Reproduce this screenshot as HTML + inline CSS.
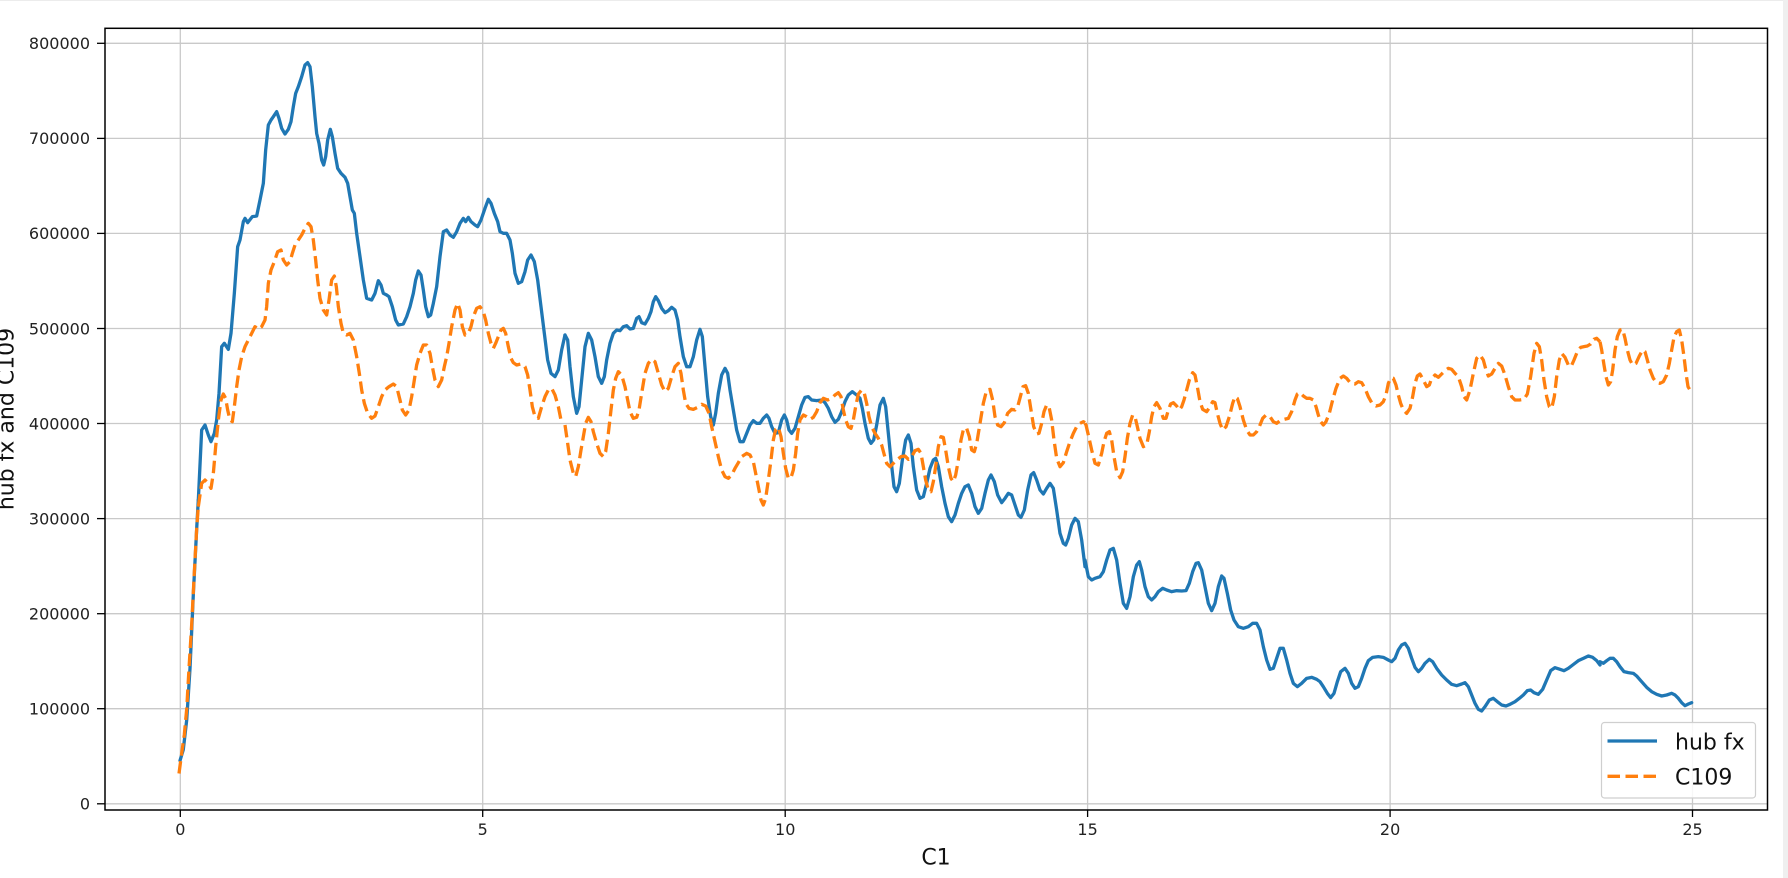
<!DOCTYPE html>
<html>
<head>
<meta charset="utf-8">
<style>
html,body{margin:0;padding:0;background:#fff;width:1788px;height:878px;overflow:hidden}
svg{display:block}
</style>
</head>
<body>
<svg width="1788" height="878" viewBox="0 0 1788 878" xmlns="http://www.w3.org/2000/svg" font-family="'DejaVu Sans','Liberation Sans',sans-serif">
<rect x="0" y="0" width="1788" height="878" fill="#fff"/>
<rect x="0" y="0" width="1788" height="1" fill="#ececec"/>
<rect x="1783" y="0" width="5" height="878" fill="#efefef"/>

<!-- grid -->
<g stroke="#c9c9c9" stroke-width="1.3" fill="none">
<line x1="180.3" y1="28.3" x2="180.3" y2="810"/>
<line x1="482.7" y1="28.3" x2="482.7" y2="810"/>
<line x1="785.2" y1="28.3" x2="785.2" y2="810"/>
<line x1="1087.6" y1="28.3" x2="1087.6" y2="810"/>
<line x1="1390.1" y1="28.3" x2="1390.1" y2="810"/>
<line x1="1692.5" y1="28.3" x2="1692.5" y2="810"/>
<line x1="105" y1="43.3" x2="1767.5" y2="43.3"/>
<line x1="105" y1="138.4" x2="1767.5" y2="138.4"/>
<line x1="105" y1="233.4" x2="1767.5" y2="233.4"/>
<line x1="105" y1="328.5" x2="1767.5" y2="328.5"/>
<line x1="105" y1="423.5" x2="1767.5" y2="423.5"/>
<line x1="105" y1="518.6" x2="1767.5" y2="518.6"/>
<line x1="105" y1="613.7" x2="1767.5" y2="613.7"/>
<line x1="105" y1="708.7" x2="1767.5" y2="708.7"/>
<line x1="105" y1="803.8" x2="1767.5" y2="803.8"/>
</g>

<!-- blue series: hub fx -->
<g fill="none" stroke="#1f77b4" stroke-linejoin="round" stroke-linecap="round">
<polyline stroke-width="3.3" points="180,760.6 183.3,749.6 186.7,720.1 190,668.5 193.3,594.8 196.7,528.4 198.3,500"/>
<g transform="translate(175,40) scale(0.333333)">
<polyline stroke-width="9.9" points="70,1380 80,1170 90,1155 100,1185 108,1205 118,1180 125,1140 132,1060 140,920 148,910 160,928 168,880 178,760 188,620 195,600 205,545 210,535 218,548 232,530 245,528 255,480 265,430 272,330 280,255 288,240 295,230 305,215 312,235 320,265 330,282 340,268 348,245 355,200 362,160 370,140 380,110 390,75 398,68 405,80 412,140 420,230 425,280 432,310 440,360 446,375 452,350 458,300 466,268 472,290 480,340 488,385 498,400 510,412 518,430 525,470 532,510 538,520 545,580 555,650 565,720 575,775 590,780 600,760 610,722 618,735 625,760 635,765 642,770 652,800 662,840 670,855 685,852 695,830 705,800 715,760 722,720 730,693 738,705 745,750 752,800 760,830 767,825 775,790 785,740 795,650 805,575 815,570 825,585 835,592 845,575 855,550 865,535 872,545 880,532 888,545 900,555 908,560 918,540 930,505 940,478 948,490 958,520 968,545 975,575 985,580 995,580 1005,600 1012,640 1020,700 1030,730 1040,725 1050,695 1058,660 1068,645 1078,665 1088,720 1098,800 1108,880 1118,960 1128,1000 1140,1010 1150,990 1160,930 1170,885"/>
</g>
<g transform="translate(565,180) scale(0.333333)">
<polyline stroke-width="9.9" points="0,465 8,480 15,560 25,650 35,700 42,680 50,600 60,500 70,460 80,480 90,530 100,590 110,610 118,590 125,540 135,490 145,460 155,450 165,452 175,440 185,437 195,447 205,445 215,415 222,410 230,428 240,432 250,415 258,395 265,365 272,350 280,362 290,385 300,398 310,392 320,382 330,390 338,420 345,470 355,530 365,560 375,560 385,530 395,480 405,448 412,470 420,560 428,650 437,710 445,735 452,700 460,640 470,585 480,565 488,580 495,630 505,690 515,750 525,785 535,785 545,760 555,735 565,722 575,730 585,730 595,715 605,705 612,715 620,740 630,760 640,758 650,720 658,705 665,720 672,750 680,760 690,745 700,710 710,675 720,652 730,650 740,660 755,662 770,660 780,668 790,685 800,710 810,727 820,718 830,695 840,665 850,645 862,635 875,645 885,655 892,685 900,730 910,775 918,790 926,780 935,735 945,675 955,655 962,680 970,760 978,840 987,920 995,935 1003,910 1012,840 1022,780 1030,765 1038,790 1045,860 1055,930 1065,955 1075,950 1085,910 1095,865 1105,840 1112,835 1120,860 1130,920 1140,970 1150,1010 1160,1025 1170,1005 1180,970 1190,940 1200,920 1210,915 1220,940 1230,980 1240,1000 1250,985 1260,940 1270,900 1278,885 1288,905 1298,945 1310,968 1320,955 1330,940 1340,945 1350,975 1360,1005 1368,1012 1378,990 1388,930 1398,885 1406,878 1415,900 1425,930 1435,942 1445,925 1455,910 1465,925 1475,990 1485,1060 1495,1090 1502,1095 1510,1075 1520,1035 1530,1015 1540,1025 1550,1080 1560,1160"/>
</g>
<g transform="translate(1080,250) scale(0.333333)">
<polyline stroke-width="9.9" points="15,930 25,980 35,990 45,985 60,980 70,965 80,930 90,900 100,895 110,930 120,1000 130,1060 140,1075 150,1040 160,980 170,945 178,935 185,960 195,1010 205,1040 215,1050 225,1040 235,1025 248,1015 260,1020 275,1025 290,1022 305,1023 318,1022 328,1000 338,965 348,940 355,938 365,960 375,1010 385,1060 395,1082 405,1060 415,1010 425,978 432,985 442,1030 452,1080 462,1110 475,1130 490,1135 505,1130 518,1120 530,1120 540,1140 550,1190 560,1230 570,1258 580,1255 590,1225 600,1195 610,1195 620,1230 630,1270 640,1300 652,1310 665,1300 680,1285 695,1282 710,1288 720,1295 730,1310 742,1330 752,1343 762,1330 772,1295 782,1265 795,1255 805,1270 815,1300 825,1315 835,1310 845,1285 855,1255 865,1232 878,1222 895,1220 910,1222 925,1230 935,1235 945,1225 955,1200 965,1185 975,1180 985,1195 995,1225 1005,1252 1015,1265 1025,1255 1035,1240 1048,1228 1058,1235 1070,1255 1085,1275 1100,1290 1115,1303 1130,1307 1145,1302 1155,1298 1165,1310 1175,1335 1185,1360 1195,1378 1205,1383 1215,1370 1228,1350 1240,1345 1252,1355 1265,1365 1278,1368 1290,1363 1305,1355 1318,1345 1330,1335 1342,1322 1352,1320 1362,1328 1375,1333 1388,1318 1400,1290 1412,1262 1425,1253 1440,1258 1452,1262 1465,1255 1478,1245 1495,1232 1510,1225 1525,1218 1538,1222 1550,1232 1560,1245"/>
</g>
<g transform="translate(1500,250) scale(0.333333)">
<polyline stroke-width="9.9" points="300,1235 310,1240 320,1232 330,1225 340,1225 350,1235 360,1250 372,1265 385,1268 400,1270 410,1278 425,1295 440,1312 455,1325 470,1333 485,1338 500,1335 515,1330 525,1335 535,1345 545,1358 555,1367 565,1362 575,1358"/>
</g>
</g>

<!-- orange series: C109 -->
<g fill="none" stroke="#ff7f0e" stroke-linejoin="round" stroke-linecap="butt">
<polyline stroke-width="3.3" stroke-dasharray="12.5 5.5" points="179,773.5 181.7,753.2 184.3,734.8 186.7,709 189,668.5 191.7,624.2 194.3,572.7 196.7,528.4 198.3,506.7"/>
<g transform="translate(175,40) scale(0.333333)">
<polyline stroke-width="9.9" stroke-dasharray="37.5 16.5" points="70,1400 80,1330 90,1320 100,1330 108,1345 115,1300 122,1220 130,1140 138,1080 145,1062 152,1075 158,1110 165,1140 172,1145 178,1100 185,1040 192,990 200,950 210,920 220,900 230,880 240,860 250,868 260,860 270,840 275,800 280,730 288,690 298,665 308,635 318,630 325,660 335,675 345,665 352,640 360,615 370,600 380,585 390,565 400,550 408,560 415,600 422,660 428,720 435,775 445,810 455,825 462,780 470,720 478,708 484,740 490,800 498,850 505,880 515,885 525,880 535,900 545,950 553,1000 560,1050 568,1090 578,1120 590,1135 600,1128 610,1100 620,1070 630,1050 642,1040 655,1032 665,1040 675,1080 682,1110 692,1125 702,1110 710,1070 718,1020 725,975 735,940 745,915 755,915 765,940 772,980 780,1020 790,1040 800,1020 808,980 815,950 822,910 830,860 840,810 848,790 855,810 862,860 870,885 880,880 888,860 895,830 905,805 915,800 925,815 932,840 940,880 948,910 955,925 962,910 970,890 978,870 985,865 992,880 1000,920 1008,955 1015,968 1025,975 1038,972 1050,980 1058,1005 1065,1050 1072,1100 1080,1130 1090,1135 1100,1100 1110,1070 1120,1050 1130,1045 1140,1065 1150,1100 1160,1150"/>
</g>
<g transform="translate(565,180) scale(0.333333)">
<polyline stroke-width="9.9" stroke-dasharray="37.5 16.5" points="0,735 8,790 15,840 25,880 32,890 40,860 48,810 55,770 62,730 70,712 78,725 85,755 95,790 105,820 115,830 122,815 130,760 138,690 145,630 152,595 160,575 170,585 180,620 188,660 195,695 205,715 215,712 222,690 230,640 240,580 250,550 260,538 270,545 280,580 290,615 300,635 310,625 320,590 330,560 340,550 348,580 355,630 362,670 372,685 385,688 398,682 410,673 422,678 432,700 440,740 450,785 460,830 470,870 480,890 490,895 500,885 510,865 520,848 530,830 545,820 555,825 565,845 572,880 580,920 588,960 595,975 602,955 610,900 618,840 625,780 632,748 640,742 648,770 655,820 662,865 670,895 678,893 685,870 692,820 698,760 705,720 715,705 725,710 735,718 745,712 755,695 765,668 775,655 788,660 800,655 810,645 820,638 828,650 835,690 842,720 850,740 858,745 865,720 872,680 880,642 890,630 898,640 905,670 912,710 920,740 930,760 940,775 950,795 958,825 965,850 975,860 985,850 995,840 1008,830 1020,828 1030,838 1040,830 1050,812 1060,808 1068,820 1075,860 1082,900 1090,930 1098,935 1105,905 1112,860 1120,800 1128,770 1135,772 1142,810 1150,860 1158,895 1165,905 1172,885 1180,840 1188,780 1196,745 1205,745 1213,770 1220,810 1228,815 1236,785 1245,730 1255,670 1265,630 1275,628 1283,660 1290,710 1298,735 1308,740 1318,728 1328,700 1340,688 1350,690 1358,680 1366,650 1374,620 1382,617 1390,640 1398,690 1406,740 1415,762 1422,760 1430,730 1437,695 1445,675 1452,680 1460,720 1467,780 1475,835 1485,860 1495,848 1505,815 1515,785 1525,760 1535,740 1545,730 1555,725 1560,728"/>
</g>
<g transform="translate(1080,250) scale(0.333333)">
<polyline stroke-width="9.9" stroke-dasharray="37.5 16.5" points="15,520 18,525 25,555 35,600 45,640 55,645 65,610 72,575 80,550 88,545 95,570 102,620 110,665 120,683 128,665 135,620 142,565 150,520 158,495 165,500 172,530 180,565 190,590 200,585 208,545 215,500 222,470 230,458 240,475 250,505 258,505 265,480 272,462 280,458 290,468 298,480 305,470 312,450 320,420 328,390 338,368 345,375 352,410 360,455 368,478 380,485 390,470 398,455 405,458 412,490 420,520 428,540 438,530 448,500 458,460 465,440 472,445 480,470 490,510 500,540 510,555 520,555 530,545 538,530 548,505 558,495 570,500 580,515 590,520 600,512 612,508 625,505 635,485 645,450 652,432 660,428 670,438 680,445 690,445 700,450 708,470 715,495 722,515 730,525 738,515 748,490 758,450 768,415 780,385 790,378 800,385 812,400 825,402 835,395 845,398 855,415 865,440 875,458 888,468 900,465 910,455 918,435 925,400 932,385 940,385 948,405 955,435 962,460 970,480 980,490 990,475 998,440 1005,400 1012,378 1020,372 1030,390 1040,410 1048,405 1055,385 1065,375 1075,382 1085,372 1095,362 1105,355 1115,358 1125,370 1135,380 1145,410 1152,440 1160,450 1170,420 1180,370 1190,325 1200,315 1210,330 1218,360 1225,378 1235,372 1245,355 1255,340 1265,348 1275,375 1285,410 1295,440 1305,450 1318,450 1332,448 1342,432 1352,380 1362,310 1370,280 1378,290 1385,330 1392,390 1400,440 1408,470 1415,475 1423,440 1430,380 1438,330 1445,310 1455,322 1465,345 1473,350 1482,330 1492,305 1502,292 1512,290 1522,288 1532,282 1542,268 1550,265 1560,275"/>
</g>
<g transform="translate(1500,250) scale(0.333333)">
<polyline stroke-width="9.9" stroke-dasharray="37.5 16.5" points="300,275 305,300 312,345 318,380 325,405 332,395 338,360 345,300 352,260 360,240 368,238 375,265 382,300 390,330 398,345 408,340 418,318 428,300 435,305 442,330 450,360 460,385 470,398 480,400 490,395 500,375 508,340 515,300 522,262 530,245 538,240 545,270 552,320 558,370 564,410 570,420 575,412"/>
</g>
</g>

<!-- spines -->
<rect x="105" y="28.3" width="1662.5" height="781.7" fill="none" stroke="#000" stroke-width="1.5"/>

<!-- ticks -->
<g stroke="#000" stroke-width="1.3">
<line x1="97" y1="43.3" x2="105" y2="43.3"/>
<line x1="97" y1="138.4" x2="105" y2="138.4"/>
<line x1="97" y1="233.4" x2="105" y2="233.4"/>
<line x1="97" y1="328.5" x2="105" y2="328.5"/>
<line x1="97" y1="423.5" x2="105" y2="423.5"/>
<line x1="97" y1="518.6" x2="105" y2="518.6"/>
<line x1="97" y1="613.7" x2="105" y2="613.7"/>
<line x1="97" y1="708.7" x2="105" y2="708.7"/>
<line x1="97" y1="803.8" x2="105" y2="803.8"/>
<line x1="180.3" y1="810" x2="180.3" y2="817"/>
<line x1="482.7" y1="810" x2="482.7" y2="817"/>
<line x1="785.2" y1="810" x2="785.2" y2="817"/>
<line x1="1087.6" y1="810" x2="1087.6" y2="817"/>
<line x1="1390.1" y1="810" x2="1390.1" y2="817"/>
<line x1="1692.5" y1="810" x2="1692.5" y2="817"/>
</g>

<!-- y tick labels -->
<g font-size="16" fill="#222" text-anchor="end">
<text x="90" y="49.1">800000</text>
<text x="90" y="144.2">700000</text>
<text x="90" y="239.2">600000</text>
<text x="90" y="334.3">500000</text>
<text x="90" y="429.3">400000</text>
<text x="90" y="524.4">300000</text>
<text x="90" y="619.5">200000</text>
<text x="90" y="714.5">100000</text>
<text x="90" y="809.6">0</text>
</g>

<!-- x tick labels -->
<g font-size="16" fill="#222" text-anchor="middle">
<text x="180.3" y="835">0</text>
<text x="482.7" y="835">5</text>
<text x="785.2" y="835">10</text>
<text x="1087.6" y="835">15</text>
<text x="1390.1" y="835">20</text>
<text x="1692.5" y="835">25</text>
</g>

<!-- axis labels -->
<text x="936" y="864.5" font-size="22" fill="#111" text-anchor="middle">C1</text>
<text transform="translate(13.5,419) rotate(-90)" font-size="22" fill="#111" text-anchor="middle">hub fx and C109</text>

<!-- legend -->
<rect x="1601.5" y="722.5" width="154" height="75.5" rx="3" ry="3" fill="#fff" fill-opacity="0.85" stroke="#cfcfcf" stroke-width="1.2"/>
<line x1="1607.5" y1="741" x2="1657" y2="741" stroke="#1f77b4" stroke-width="3.3"/>
<line x1="1607.5" y1="776.3" x2="1657" y2="776.3" stroke="#ff7f0e" stroke-width="3.3" stroke-dasharray="12.5 5.5"/>
<text x="1675" y="749.5" font-size="22" fill="#111">hub fx</text>
<text x="1675" y="784.5" font-size="22" fill="#111">C109</text>
</svg>
</body>
</html>
